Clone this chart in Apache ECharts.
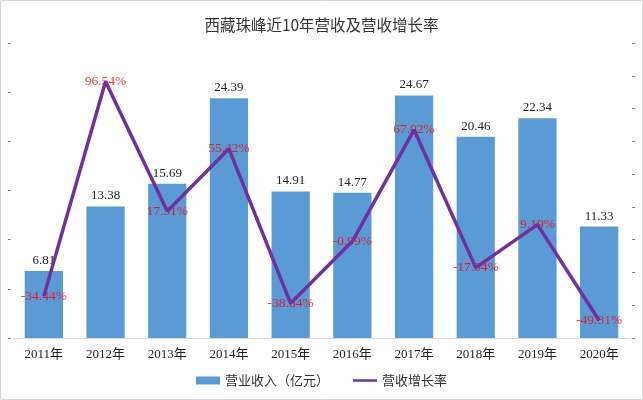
<!DOCTYPE html>
<html>
<head>
<meta charset="utf-8">
<script src="https://cdn.jsdelivr.net/npm/echarts@6/dist/echarts.min.js"></script>
<style>
html, body { margin: 0; padding: 0; background: #fff; }
#chart { width: 643px; height: 400px; }
</style>
</head>
<body>
<div id="chart"></div>
<script>
var years = ['2011年', '2012年', '2013年', '2014年', '2015年', '2016年', '2017年', '2018年', '2019年', '2020年'];
var revenue = [6.81, 13.38, 15.69, 24.39, 14.91, 14.77, 24.67, 20.46, 22.34, 11.33];
var growth = [-34.44, 96.54, 17.31, 55.42, -38.84, -0.99, 67.02, -17.04, 9.19, -49.31];

var serif = '"Liberation Serif", "Noto Sans CJK SC", serif';

var chart = echarts.init(document.getElementById('chart'));
var option = {
	backgroundColor : '#fff',
	animation : false,
	title : {
		text : '西藏珠峰近10年营收及营收增长率',
		left : 'center',
		top : 12,
		textStyle : {
			fontFamily : '"Noto Sans CJK SC", sans-serif',
			fontSize : 15.5,
			fontWeight : 'normal',
			color : '#333'
		}
	},
	graphic : [ {
		type : 'rect',
		shape : { x : 0.5, y : 0.5, width : 642, height : 399 },
		style : { fill : 'none', stroke : '#d9d9d9', lineWidth : 1 },
		silent : true
	} ],
	legend : {
		bottom : 8,
		left : 'center',
		itemGap : 24,
		itemWidth : 24,
		itemHeight : 8,
		textStyle : {
			fontFamily : '"Noto Sans CJK SC", sans-serif',
			fontSize : 13,
			color : '#333'
		},
		data : [ {
			name : '营业收入（亿元）',
			icon : 'rect'
		}, {
			name : '营收增长率',
			icon : 'path://M0,4L24,4L24,6.5L0,6.5Z'
		} ]
	},
	grid : {
		left : 13,
		right : 13,
		top : 43,
		bottom : 62
	},
	xAxis : [ {
		type : 'category',
		data : years,
		axisLine : { lineStyle : { color : '#d9d9d9' } },
		axisTick : { show : false },
		axisLabel : {
			fontFamily : serif,
			fontSize : 13,
			color : '#222',
			margin : 10
		}
	} ],
	yAxis : [ {
		type : 'value',
		min : 0,
		max : 30,
		interval : 5,
		splitLine : { show : false },
		axisLine : { show : false },
		axisTick : { show : false },
		axisLabel : {
			formatter : function() { return '-'; },
			color : '#555',
			fontSize : 10,
			margin : 2
		}
	}, {
		type : 'value',
		min : -60,
		max : 120,
		interval : 20,
		splitLine : { show : false },
		axisLine : { show : false },
		axisTick : { show : false },
		axisLabel : {
			formatter : function() { return '-'; },
			color : '#555',
			fontSize : 10,
			margin : 2
		}
	} ],
	series : [ {
		name : '营业收入（亿元）',
		type : 'bar',
		data : revenue,
		barCategoryGap : '38%',
		itemStyle : { color : '#5b9bd5' },
		label : {
			show : true,
			position : 'top',
			distance : 4,
			fontFamily : serif,
			fontSize : 13,
			color : '#222'
		}
	}, {
		// labels only, kept under the line
		name : 'growthLabels',
		type : 'scatter',
		yAxisIndex : 1,
		data : growth,
		symbolSize : 0,
		silent : true,
		label : {
			show : true,
			position : 'inside',
			offset : [ 0, 0 ],
			fontFamily : serif,
			fontSize : 13.5,
			color : '#ff0000',
			formatter : function(p) { return p.value.toFixed(2) + '%'; }
		},
		labelLayout : { hideOverlap : false },
		z : 3
	}, {
		name : '营收增长率',
		type : 'line',
		yAxisIndex : 1,
		data : growth,
		symbol : 'none',
		lineStyle : { color : '#7030a0', width : 3.5 },
		itemStyle : { color : '#7030a0' },
		z : 4
	} ]
};
chart.setOption(option);
window.onresize = chart.resize;
</script>
</body>
</html>
